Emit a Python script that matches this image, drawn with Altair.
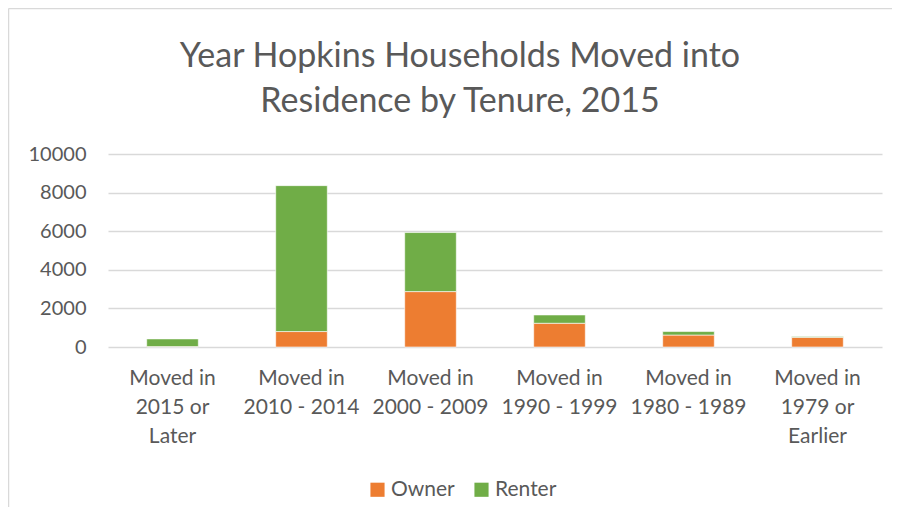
import altair as alt
import pandas as pd

title_lines = ["Year Hopkins Households Moved into", "Residence by Tenure, 2015"]
categories = [
    "Moved in|2015 or|Later",
    "Moved in|2010 - 2014",
    "Moved in|2000 - 2009",
    "Moved in|1990 - 1999",
    "Moved in|1980 - 1989",
    "Moved in|1979 or|Earlier",
]
owner = [20, 800, 2870, 1230, 620, 500]
renter = [400, 7560, 3060, 430, 180, 40]
series = ["Owner", "Renter"]
colors = ["#ED7D31", "#70AD47"]

rows = []
for c, o, r in zip(categories, owner, renter):
    rows.append({"cat": c, "tenure": "Owner", "value": o, "ord": 0})
    rows.append({"cat": c, "tenure": "Renter", "value": r, "ord": 1})
df = pd.DataFrame(rows)

FONT = "Lato"
GRAY = "#595959"

bars = alt.Chart(df).mark_bar(stroke="white", strokeWidth=0.6).encode(
    x=alt.X(
        "cat:N",
        sort=categories,
        title=None,
        scale=alt.Scale(paddingInner=0.6, paddingOuter=0.3),
        axis=alt.Axis(
            labelExpr="split(datum.label, '|')",
            labelAngle=0,
            labelFont=FONT,
            labelFontSize=21,
            labelColor=GRAY,
            labelLineHeight=29,
            labelPadding=20,
            ticks=False,
            domain=False,
            grid=False,
            labelBaseline="top",
        ),
    ),
    y=alt.Y(
        "value:Q",
        stack="zero",
        title=None,
        scale=alt.Scale(domain=[0, 10000], nice=False),
        axis=alt.Axis(
            values=[0, 2000, 4000, 6000, 8000, 10000],
            labelFont=FONT,
            labelFontSize=20,
            labelColor=GRAY,
            labelPadding=22,
            ticks=False,
            domain=False,
            grid=True,
            gridColor="#D9D9D9",
            gridWidth=1.5,
            format="d",
        ),
    ),
    color=alt.Color(
        "tenure:N",
        scale=alt.Scale(domain=series, range=colors),
        legend=alt.Legend(
            title=None,
            orient="none",
            direction="horizontal",
            legendX=259,
            legendY=325,
            symbolType="square",
            symbolSize=200,
            symbolStrokeWidth=0,
            labelFont=FONT,
            labelFontSize=21,
            labelColor=GRAY,
            columnPadding=16,
            labelOffset=3,
        ),
    ),
    order=alt.Order("ord:Q"),
)

one = pd.DataFrame({"a": [0]})
left_edge = alt.Chart(one).mark_rule(stroke="#D9D9D9", strokeWidth=1.5, clip=False).encode(
    x=alt.value(-99.5), y=alt.value(-145.5), y2=alt.value(600)
)
top_edge = alt.Chart(one).mark_rule(stroke="#D9D9D9", strokeWidth=1.5, clip=False).encode(
    x=alt.value(-99.5), x2=alt.value(900), y=alt.value(-145.5)
)

title = alt.Chart(pd.DataFrame({"t": ["|".join(title_lines)]})).mark_text(
    font=FONT,
    fontSize=34,
    color=GRAY,
    lineBreak="|",
    lineHeight=45,
    align="center",
    baseline="alphabetic",
).encode(
    text="t:N",
    x=alt.value(352),
    y=alt.value(-87),
)

chart = (
    alt.layer(left_edge, top_edge, bars, title)
    .properties(
        width=774,
        height=193,
        padding={"left": 100, "top": 146, "right": 10, "bottom": 160},
        autosize=alt.AutoSizeParams(type="none"),
    )
    .configure_view(stroke=None)
)

chart.save("out.html", embed_options={"renderer": "svg", "actions": False})
